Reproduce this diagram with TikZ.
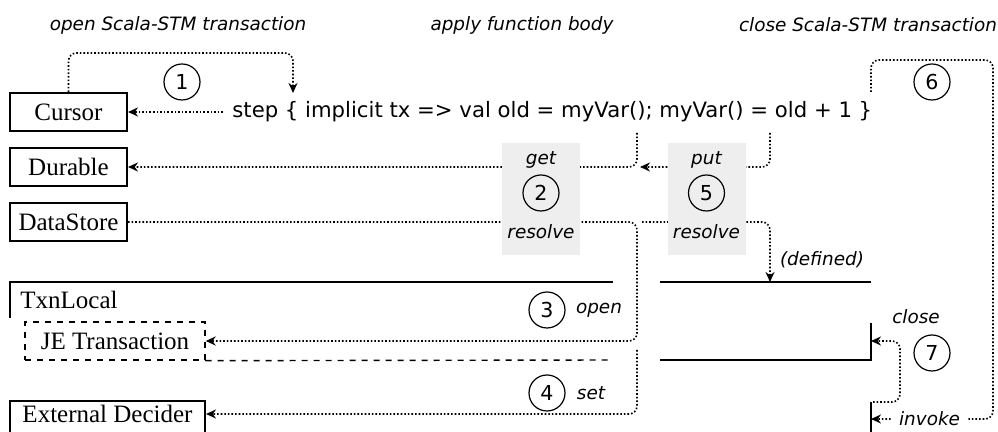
\documentclass[tikz,border=0pt]{standalone}
\usepackage{fontspec}
\setmainfont{Liberation Serif}
\setsansfont{DejaVu Sans}
\usepackage{tikz}
\usetikzlibrary{arrows.meta, positioning}
\colorlet{cPanel}{gray!13}

\begin{document}
\begin{tikzpicture}[x=0.5pt, y=-0.5pt,
    box/.style={draw, line width=1pt, minimum width=58.5pt, minimum height=19pt,
      inner sep=0pt, font=\fontsize{12.5}{14}\selectfont},
    code/.style={font=\sffamily\fontsize{10.6}{12}\selectfont, inner xsep=4.5pt, inner ysep=0pt},
    note/.style={font=\sffamily\itshape\fontsize{9.2}{11}\selectfont, inner sep=1.5pt},
    num/.style={draw, circle, line width=0.6pt, minimum size=18pt, inner sep=0pt,
      font=\sffamily\fontsize{10.3}{12}\selectfont},
    flow/.style={line width=0.8pt, densely dotted, rounded corners=4pt,
      -{Stealth[length=5pt, width=4.5pt]}},
    frame/.style={line width=1pt},
    panel/.style={fill=cPanel, minimum width=39pt, minimum height=56pt, inner sep=0pt}]
    \useasboundingbox (0,0) rectangle (998,432);
    \clip (0,0) rectangle (998,432);
    \node[note] (tOpen) at (178,25) {open Scala-STM transaction};
    \node[note] (tApply) at (522,25) {apply function body};
    \node[note] (tClose) at (868,25) {close Scala-STM transaction};
    \node[box] (cursor) at (68.5,112) {Cursor};
    \node[box] (durable) at (68.5,167) {Durable};
    \node[box] (store) at (68.5,222) {DataStore};
    \node[code, anchor=west] (body) at (223,112)
      {step \{ implicit tx => val old = myVar(); myVar() = old + 1 \}};
    \node[inner sep=0pt, anchor=west, font=\fontsize{12.5}{14}\selectfont] (txnlocal) at (20,300) {TxnLocal};
    \node[box, dashed, line width=0.7pt, minimum width=90pt] (jetx) at (115,341) {JE Transaction};
    \node[box, draw=none, minimum width=97.5pt] (decider) at (107.5,414) {External Decider};
    \coordinate (brace) at (293,93);
    \coordinate (readpt) at (637,133);
    \coordinate (writept) at (770,133);
    \coordinate (turn) at (637,341);
    \coordinate (setpt) at (637,350);
    \coordinate (respt) at (642,222);
    \coordinate (defpt) at (770,282);
    \coordinate (closept) at (871,92);
    \coordinate (ctop) at (871,341);
    \coordinate (cbot) at (873,402);
    \coordinate (invpt) at (871,419);
    \draw[frame] (10,440) |- (205,401) -- (205,440);
    \draw[frame] (10,318) |- (613,282);
    \draw[frame] (660,282) -- (871,282);
    \draw[frame] (660,360) -| (871,323);
    \draw[frame] (871,402) -- (871,440);
    \draw[dashed, line width=0.7pt] (jetx.south east) -- (613,360);
    \draw[flow] (cursor.north) -- (68.5,53) -| (brace);
    \draw[flow] (body.west) -- (cursor.east);
    \draw[flow] (readpt) |- (durable.east);
    \draw[flow] (writept) |- (640,167);
    \draw[flow] (store.east) -| (turn) -- (jetx.east);
    \draw[flow] (setpt) |- (decider.east);
    \draw[flow] (respt) -| (defpt);
    \draw[flow] (closept) |- (993,60) |- (invpt)
      node[note, pos=0.76, fill=white, inner xsep=4pt] {invoke};
    \draw[flow] (cbot) -| (900,341) -- (ctop);
    \node[panel] (getpanel) at (541,199) {};
    \node[panel] (putpanel) at (706.5,199) {};
    \node[note] at (541,160) {get};
    \node[num] (n2) at (541,193) {2};
    \node[note] at (541,232) {resolve};
    \node[note] at (706.5,160) {put};
    \node[num] (n5) at (706.5,193) {5};
    \node[note] at (706.5,232) {resolve};
    \node[num] (n1) at (182,82) {1};
    \node[num] (n3) at (547,310) {3};
    \node[note] at (599,310) {open};
    \node[num] (n4) at (547,393) {4};
    \node[note] at (591,393) {set};
    \node[note] at (822,260) {(defined)};
    \node[num] (n6) at (932,82) {6};
    \node[note] at (916,317) {close};
    \node[num] (n7) at (932,353) {7};
  \end{tikzpicture}
\end{document}
